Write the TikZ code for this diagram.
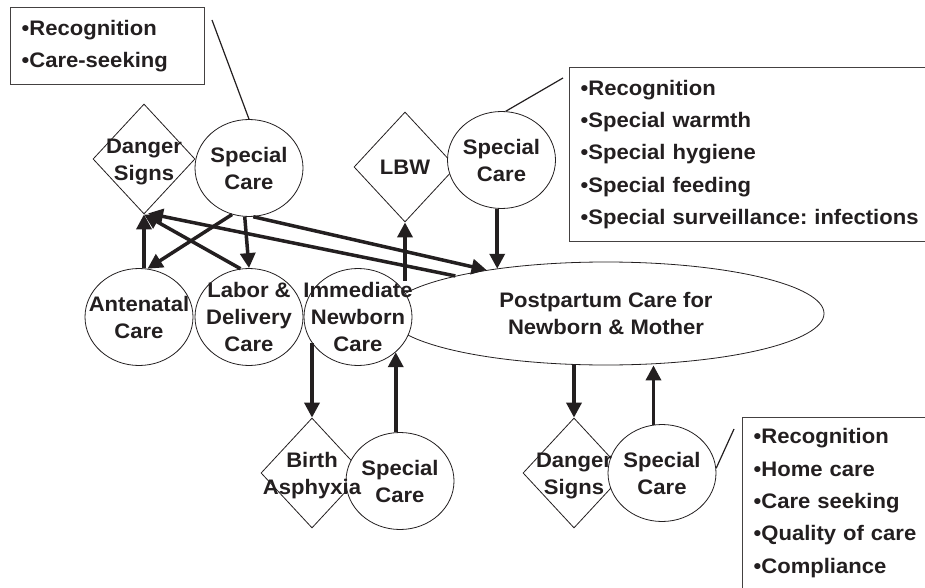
\documentclass[tikz,border=0pt]{standalone}
\usepackage{fontspec}
\setmainfont{Liberation Sans}[FakeStretch=1.05]
\usetikzlibrary{shapes.geometric,arrows.meta,calc}
\definecolor{ink}{HTML}{231F20}
\newcommand{\nodetext}[1]{\smash{\makebox[0pt]{\raisebox{-7.3pt}{\begin{tabular}{@{}c@{}}#1\end{tabular}}}}}
\frenchspacing

\begin{document}
\begin{tikzpicture}[x=1pt,y=-1pt,
  every node/.style={text=ink,font=\fontsize{21}{27}\selectfont\bfseries},
  rnd/.style={ellipse,draw=ink,line width=.8pt,fill=white,inner sep=0pt,minimum width=108pt,minimum height=97pt},
  dmd/.style={diamond,draw=ink,line width=.8pt,inner sep=0pt,minimum width=102pt,minimum height=110pt},
  notes/.style={draw=ink!85,line width=1.3pt,align=left,anchor=north west,inner xsep=11pt,inner ysep=12.5pt,font=\fontsize{21}{32.3}\selectfont\bfseries},
  arr/.style={draw=ink,line width=3.5pt,-{Triangle[length=15pt,width=15pt]}},
  callout/.style={draw=ink,line width=1.2pt}]
  \useasboundingbox (0,0) rectangle (925,588);

  \node[ellipse,draw=ink,line width=.8pt,inner sep=0pt,minimum width=436pt,minimum height=103pt] (post) at (606,313.5)
    {\nodetext{Postpartum Care for\\Newborn \& Mother}};

  \node[dmd] (dsA) at (144,159) {};
  \node[dmd] (lbw) at (405,167) {};
  \node[dmd] (birth) at (312,473) {};
  \node[dmd] (dsB) at (574,473) {};

  \node[rnd] (scA) at (249,168) {\nodetext{Special\\Care}};
  \node[rnd] (scB) at (501.5,160) {\nodetext{Special\\Care}};
  \node[rnd] (ante) at (139,317) {\nodetext{Antenatal\\Care}};
  \node[rnd] (labor) at (249,317) {\nodetext{Labor \&\\Delivery\\Care}};
  \node[rnd] (newborn) at (358,317) {\nodetext{Immediate\\Newborn\\Care}};
  \node[rnd] (scC) at (400,481) {\nodetext{Special\\Care}};
  \node[rnd] (scD) at (662,473) {\nodetext{Special\\Care}};

  \node (dsAtext) at (dsA) {\nodetext{Danger\\Signs}};
  \node (lbwtext) at (lbw) {\nodetext{LBW}};
  \node (birthtext) at (birth) {\nodetext{Birth\\Asphyxia}};
  \node (dsBtext) at (dsB) {\nodetext{Danger\\Signs}};

  \node[notes,text width=172pt] (tlbox) at (10,7) {•Recognition\\•Care-seeking};
  \node[notes,text width=345pt] (trbox) at (569,67)
    {•Recognition\\•Special warmth\\•Special hygiene\\•Special feeding\\•Special surveillance: infections};
  \node[notes,text width=175pt,inner ysep=11pt] (brbox) at (742,417)
    {•Recognition\\•Home care\\•Care seeking\\•Quality of care\\•Compliance};

  \coordinate (tlend) at (212,20);
  \coordinate (trend) at (563,78);
  \coordinate (brend) at (734,429);
  \draw[callout] (tlend) -- (scA.north);
  \draw[callout] (scB.85) -- (trend);
  \draw[callout] (scD.5) -- (brend);

  \draw[arr] (dsA.south |- ante.north) -- (dsA.south);
  \draw[arr] (scA.250) -- (ante.80);
  \draw[arr] (labor.100) -- (dsA.south);
  \draw[arr] (scA.265) -- (labor.north);
  \draw[arr] (scA.275) -- (post.160);
  \draw[arr] (post.166) -- ($(dsA.south)+(4,-1)$);
  \draw[arr] (lbw.south |- newborn.45) -- (lbw.south);
  \draw[arr] (scB.265) -- (scB.265 |- post.158);
  \draw[arr] (birth.north |- newborn.210) -- (birth.north);
  \draw[arr] (newborn.317 |- scC.north) -- (newborn.317);
  \draw[arr] (dsB.north |- post.south) -- (dsB.north);
  \draw[arr] (scD.100) -- (scD.100 |- post.south);
\end{tikzpicture}
\end{document}
